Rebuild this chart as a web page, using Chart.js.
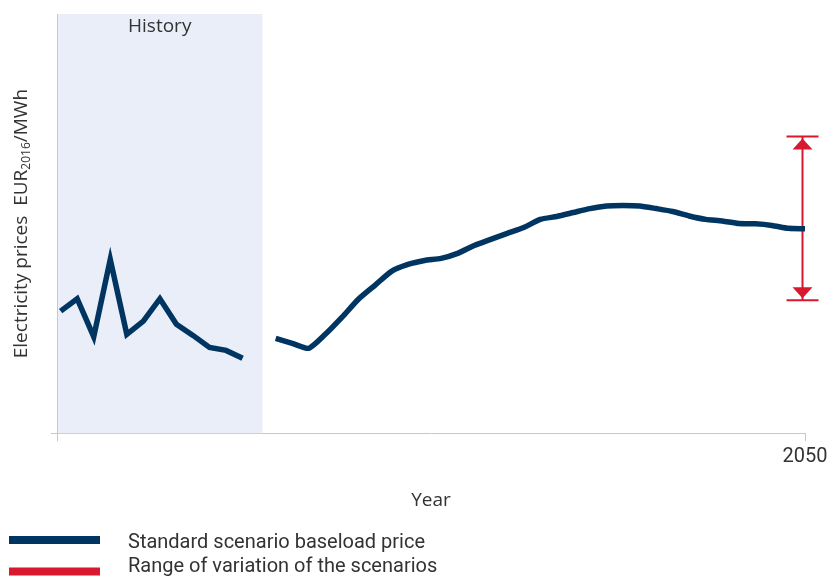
<!DOCTYPE html>
<html>
<head>
<meta charset="utf-8">
<script src="https://cdn.jsdelivr.net/npm/chart.js@4/dist/chart.umd.min.js"></script>
<style>
  html, body { margin: 0; padding: 0; background: #fff; }
  #wrap { width: 829px; height: 579px; position: relative; }
</style>
</head>
<body>
<div id="wrap"><canvas id="myChart"></canvas></div>
<script>
  'use strict'

  // Data (EUR2016/MWh)
  const historyYears = [2005, 2006, 2007, 2008, 2009, 2010, 2011, 2012, 2013, 2014, 2015, 2016];
  const historyPrices = [46.3, 51.0, 36.6, 65.9, 37.5, 42.5, 51.0, 41.3, 37.1, 32.5, 31.4, 28.4];

  const forecastYears = [2018, 2019, 2020, 2021, 2022, 2023, 2024, 2025, 2026, 2027, 2028,
    2029, 2030, 2031, 2032, 2033, 2034, 2035, 2036, 2037, 2038, 2039, 2040, 2041, 2042,
    2043, 2044, 2045, 2046, 2047, 2048, 2049, 2050];
  const forecastPrices = [36.0, 34.1, 32.2, 37.5, 43.9, 50.8, 56.1, 61.4, 64.0, 65.5, 66.3,
    68.2, 71.2, 73.5, 75.8, 78.0, 81.1, 82.2, 83.7, 85.2, 86.2, 86.4, 86.2, 85.2, 84.1,
    82.4, 81.1, 80.5, 79.5, 79.4, 78.8, 77.7, 77.5];

  const rangeYear = 2049.85;
  const rangeLow = 50.4;
  const rangeHigh = 112.5;

  const historyEnd = 2017.2;
  const xTickLabels = ['2050'];

  const BLUE = '#003561';
  const RED = '#d7182f';
  const TEXT = '#333333';
  const NARROW = '"Liberation Sans Narrow", "Roboto", sans-serif';
  const WIDE = '"Open Sans", "Noto Sans", sans-serif';

  const toPoints = (xs, ys) => xs.map((x, i) => ({ x: x, y: ys[i] }));

  // history shading + label
  const historyBand = {
    id: 'historyBand',
    beforeDatasetsDraw(chart) {
      const { ctx, chartArea, scales } = chart;
      const x1 = scales.x.getPixelForValue(historyEnd);
      ctx.save();
      ctx.fillStyle = '#e9eef8';
      ctx.fillRect(chartArea.left + 1, chartArea.top, x1 - chartArea.left - 1, chartArea.bottom - chartArea.top);
      ctx.fillStyle = TEXT;
      ctx.font = '19px ' + WIDE;
      ctx.textAlign = 'center';
      ctx.textBaseline = 'middle';
      ctx.fillText('History', (chartArea.left + x1) / 2, chartArea.top + 13);
      ctx.restore();
    }
  };

  // caps and arrowheads on the range line
  const rangeArrows = {
    id: 'rangeArrows',
    afterDatasetsDraw(chart) {
      const meta = chart.getDatasetMeta(2);
      if (!meta || !meta.data.length) return;
      const { ctx } = chart;
      const top = meta.data[1];
      const bot = meta.data[0];
      ctx.save();
      ctx.strokeStyle = RED;
      ctx.fillStyle = RED;
      ctx.lineWidth = 2;
      [[top, 1], [bot, -1]].forEach(([p, dir]) => {
        ctx.beginPath();
        ctx.moveTo(p.x - 16, p.y);
        ctx.lineTo(p.x + 16, p.y);
        ctx.stroke();
        ctx.beginPath();
        ctx.moveTo(p.x, p.y + dir * 2);
        ctx.lineTo(p.x - 10, p.y + dir * 13);
        ctx.lineTo(p.x + 10, p.y + dir * 13);
        ctx.closePath();
        ctx.fill();
      });
      ctx.restore();
    }
  };

  // y title with subscript
  const yTitle = {
    id: 'yTitle',
    afterDraw(chart) {
      const { ctx, chartArea } = chart;
      const parts = [
        ['Electricity prices  EUR', 19, 0],
        ['2016', 12, 5],
        ['/MWh', 19, 0]
      ];
      ctx.save();
      let total = 0;
      parts.forEach(p => { ctx.font = p[1] + 'px ' + WIDE; total += ctx.measureText(p[0]).width; });
      ctx.translate(22, (chartArea.top + chartArea.bottom) / 2);
      ctx.rotate(-Math.PI / 2);
      ctx.fillStyle = TEXT;
      ctx.textBaseline = 'middle';
      ctx.textAlign = 'left';
      let x = -total / 2;
      parts.forEach(p => {
        ctx.font = p[1] + 'px ' + WIDE;
        ctx.fillText(p[0], x, p[2]);
        x += ctx.measureText(p[0]).width;
      });
      ctx.restore();
    }
  };

  // legend rows at the bottom
  const bottomLegend = {
    id: 'bottomLegend',
    afterDraw(chart) {
      const { ctx } = chart;
      const rows = [
        { label: chart.data.datasets[0].label, color: BLUE, y: 540, text: 543 },
        { label: chart.data.datasets[2].label, color: RED, y: 571.5, text: 567 }
      ];
      ctx.save();
      rows.forEach(r => {
        ctx.fillStyle = r.color;
        ctx.fillRect(9, r.y - 4, 91, 8);
        ctx.fillStyle = TEXT;
        ctx.font = '20px ' + NARROW;
        ctx.textBaseline = 'middle';
        ctx.fillText(r.label, 128, r.text);
      });
      ctx.restore();
    }
  };

  const ctx = document.getElementById('myChart');
  new Chart(ctx, {
    type: 'line',
    data: {
      datasets: [
        {
          label: 'Standard scenario baseload price',
          data: toPoints(historyYears, historyPrices),
          borderColor: BLUE,
          borderWidth: 5.5,
          pointRadius: 0,
          tension: 0
        },
        {
          label: 'forecast',
          data: toPoints(forecastYears, forecastPrices),
          borderColor: BLUE,
          borderWidth: 5.5,
          pointRadius: 0,
          tension: 0.2
        },
        {
          label: 'Range of variation of the scenarios',
          data: [{ x: rangeYear, y: rangeLow }, { x: rangeYear, y: rangeHigh }],
          borderColor: RED,
          borderWidth: 2,
          pointRadius: 0
        }
      ]
    },
    options: {
      responsive: true,
      maintainAspectRatio: false,
      animation: false,
      layout: { padding: { left: 51, right: 24, top: 14, bottom: 67 } },
      plugins: {
        legend: { display: false },
        tooltip: { enabled: false }
      },
      scales: {
        x: {
          type: 'linear',
          min: 2004.78,
          max: 2050,
          afterBuildTicks: (s) => { s.ticks = [{ value: 2004.78 }, { value: 2050 }]; },
          afterFit: (s) => { s.paddingRight = 0; s.paddingLeft = 0; },
          ticks: {
            padding: 4,
            maxRotation: 0,
            autoSkip: false,
            color: TEXT,
            font: { family: NARROW, size: 20 },
            callback: (v) => (v === 2050 ? xTickLabels[0] : '')
          },
          grid: { drawOnChartArea: false, drawTicks: true, tickLength: 8, color: '#c8c8c8' },
          border: { display: true, color: '#c8c8c8', width: 1 },
          title: {
            display: true,
            text: 'Year',
            color: TEXT,
            font: { family: WIDE, size: 19 },
            padding: { top: 16, bottom: 0 }
          }
        },
        y: {
          type: 'linear',
          min: 0,
          max: 159,
          afterBuildTicks: (s) => { s.ticks = [{ value: 0 }]; },
          ticks: { display: false },
          grid: { drawOnChartArea: false, drawTicks: true, tickLength: 6, color: '#c8c8c8' },
          border: { display: true, color: '#c8c8c8', width: 1 }
        }
      }
    },
    plugins: [historyBand, rangeArrows, yTitle, bottomLegend]
  });
</script>
</body>
</html>
